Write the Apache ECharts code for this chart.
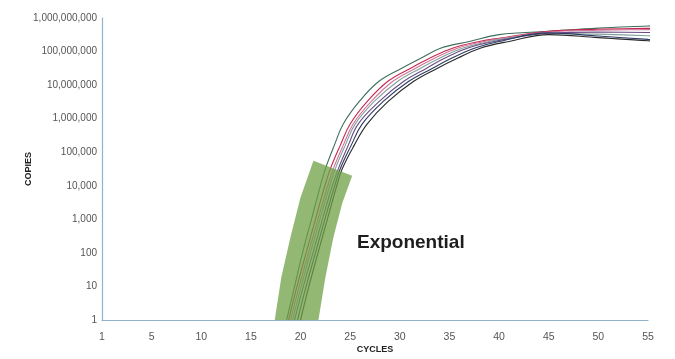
<!DOCTYPE html>
<html>
<head>
<meta charset="utf-8">
<script src="https://cdn.jsdelivr.net/npm/echarts@6/dist/echarts.min.js"></script>
<style>
  html, body { margin: 0; padding: 0; background: #fff; overflow: hidden; }
  #chart { width: 675px; height: 359px; }
</style>
</head>
<body>
<div id="chart"></div>
<script>
// qPCR amplification curves: copies (log scale) against cycle number

const cycleTickLabels = ['1', '5', '10', '15', '20', '25', '30', '35', '40', '45', '50', '55'];

// [cycle, copies] pairs for each replicate curve
const curveTeal = [
  [18.6, 1], [19.4, 10], [20.2, 100], [21.1, 1e3], [22.0, 1e4], [22.5, 3.2e4],
  [23.4, 1.6e5], [24.3, 6.9e5], [25.9, 3.2e6], [27.9, 1.3e7], [30.2, 3.2e7],
  [32.1, 6.3e7], [34.1, 1.26e8], [37.0, 2.0e8], [40, 3.2e8], [45, 4.0e8],
  [50, 5.0e8], [55, 5.8e8], [57.6, 6.3e8]
];
const curveCrimson = [
  [18.8, 1], [19.64, 10], [20.56, 100], [21.5, 1e3], [22.45, 1e4], [23.0, 3.2e4],
  [24.0, 1.6e5], [25.0, 6.9e5], [26.7, 3.2e6], [28.8, 1.3e7], [31.1, 3.2e7],
  [33.0, 6.3e7], [35.3, 1.26e8], [38.0, 2.0e8], [40, 2.5e8], [45, 4.0e8],
  [50, 4.6e8], [55, 4.9e8], [57.6, 5.0e8]
];
const curvePink = [
  [19.0, 1], [19.86, 10], [20.8, 100], [21.75, 1e3], [22.74, 1e4], [23.3, 3.2e4],
  [24.3, 1.6e5], [25.3, 6.9e5], [27.1, 3.2e6], [29.3, 1.3e7], [31.6, 3.2e7],
  [33.5, 6.3e7], [35.8, 1.26e8], [38.5, 2.0e8], [40, 2.4e8], [45, 3.8e8],
  [50, 4.3e8], [55, 4.5e8], [57.6, 4.6e8]
];
const curveSage = [
  [19.2, 1], [20.06, 10], [21.0, 100], [21.95, 1e3], [22.94, 1e4], [23.5, 3.2e4],
  [24.5, 1.6e5], [25.5, 6.9e5], [27.4, 3.2e6], [29.8, 1.3e7], [32.1, 3.2e7],
  [34.0, 6.3e7], [36.3, 1.26e8], [39.0, 2.0e8], [40, 2.3e8], [45, 3.5e8],
  [50, 3.3e8], [55, 2.95e8], [57.6, 2.8e8]
];
const curvePurple = [
  [19.4, 1], [20.28, 10], [21.25, 100], [22.2, 1e3], [23.2, 1e4], [23.8, 3.2e4],
  [24.8, 1.6e5], [25.8, 6.9e5], [27.9, 3.2e6], [30.4, 1.3e7], [32.7, 3.2e7],
  [34.5, 6.3e7], [36.8, 1.26e8], [39.5, 2.0e8], [45, 3.5e8],
  [50, 3.8e8], [55, 3.7e8], [57.6, 3.6e8]
];
const curveNavy = [
  [19.7, 1], [20.56, 10], [21.5, 100], [22.45, 1e3], [23.44, 1e4], [24.0, 3.2e4],
  [25.1, 1.6e5], [26.2, 6.9e5], [28.3, 3.2e6], [30.9, 1.3e7], [33.3, 3.2e7],
  [35.2, 6.3e7], [37.5, 1.26e8], [40.0, 2.0e8], [45, 3.6e8],
  [50, 2.9e8], [55, 2.3e8], [57.6, 2.1e8]
];
const curveBlack = [
  [20.0, 1], [20.84, 10], [21.76, 100], [22.7, 1e3], [23.65, 1e4], [24.2, 3.2e4],
  [25.4, 1.6e5], [26.7, 6.9e5], [28.8, 3.2e6], [31.4, 1.3e7], [33.8, 3.2e7],
  [35.8, 6.3e7], [38.1, 1.26e8], [41.0, 2.0e8], [45, 3.2e8],
  [50, 2.6e8], [55, 2.1e8], [57.6, 2.0e8]
];

const curveSets = [curveTeal, curveCrimson, curvePink, curveSage, curvePurple, curveNavy, curveBlack];
const curveColors = ['#3f6e5c', '#c2294e', '#d4739a', '#7fa39a', '#6a4c85', '#2c3a64', '#2a2a2a'];

// outline of the exponential-phase band, [cycle, copies]
const bandOutline = [
  [17.4, 1], [18.06, 18.6], [18.97, 282], [19.98, 4300], [21.3, 5.6e4],
  [25.2, 2.0e4], [24.2, 3.0e3], [23.3, 282], [22.5, 18.6], [21.8, 1]
];

const chart = echarts.init(document.getElementById('chart'), null, { renderer: 'canvas' });

const axisColor = '#8fb3cc';
const labelFont = '"Liberation Sans", Arial, Helvetica, sans-serif';

const lineSeries = curveSets.map((pts, i) => ({
  type: 'line',
  data: pts,
  smooth: 0.4,
  showSymbol: false,
  clip: false,
  lineStyle: { width: 1.1, color: curveColors[i] },
  z: 2
}));

chart.setOption({
  animation: false,
  backgroundColor: '#ffffff',
  grid: { left: 102, right: 27, top: 18, bottom: 35 },
  xAxis: {
    type: 'value',
    min: 0,
    max: 55,
    interval: 5,
    name: 'CYCLES',
    nameLocation: 'middle',
    nameGap: 25,
    nameMoveOverlap: false,
    nameTextStyle: { fontFamily: labelFont, fontWeight: 'bold', fontSize: 9, color: '#222' },
    axisLine: { show: true, lineStyle: { color: axisColor, width: 1.2 } },
    axisTick: { show: false },
    splitLine: { show: false },
    axisLabel: {
      margin: 12,
      fontFamily: labelFont,
      fontSize: 10.5,
      color: '#555',
      formatter: v => cycleTickLabels[Math.round(v / 5)]
    }
  },
  yAxis: {
    type: 'log',
    logBase: 10,
    min: 1,
    max: 1e9,
    interval: 1,
    splitNumber: 9,
    name: 'COPIES',
    nameLocation: 'middle',
    nameRotate: 90,
    nameGap: 69,
    nameMoveOverlap: false,
    nameTextStyle: { fontFamily: labelFont, fontWeight: 'bold', fontSize: 9, color: '#222' },
    axisLine: { show: true, lineStyle: { color: axisColor, width: 1.2 } },
    axisTick: { show: false },
    splitLine: { show: false },
    axisLabel: {
      margin: 5,
      fontFamily: labelFont,
      fontSize: 10,
      color: '#555',
      formatter: v => Math.round(v).toLocaleString('en-US')
    }
  },
  graphic: [{
    type: 'text',
    left: 357,
    top: 233,
    style: {
      text: 'Exponential',
      font: 'bold 19px "Liberation Sans", Arial, sans-serif',
      fill: '#1e1e1e'
    },
    z: 10
  }],
  series: lineSeries.concat([{
    type: 'custom',
    data: [[20, 100]],
    clip: false,
    z: 3,
    renderItem: (params, api) => ({
      type: 'polygon',
      shape: { points: bandOutline.map(p => api.coord(p)) },
      style: { fill: 'rgba(110,160,70,0.75)' }
    })
  }])
});
</script>
</body>
</html>
